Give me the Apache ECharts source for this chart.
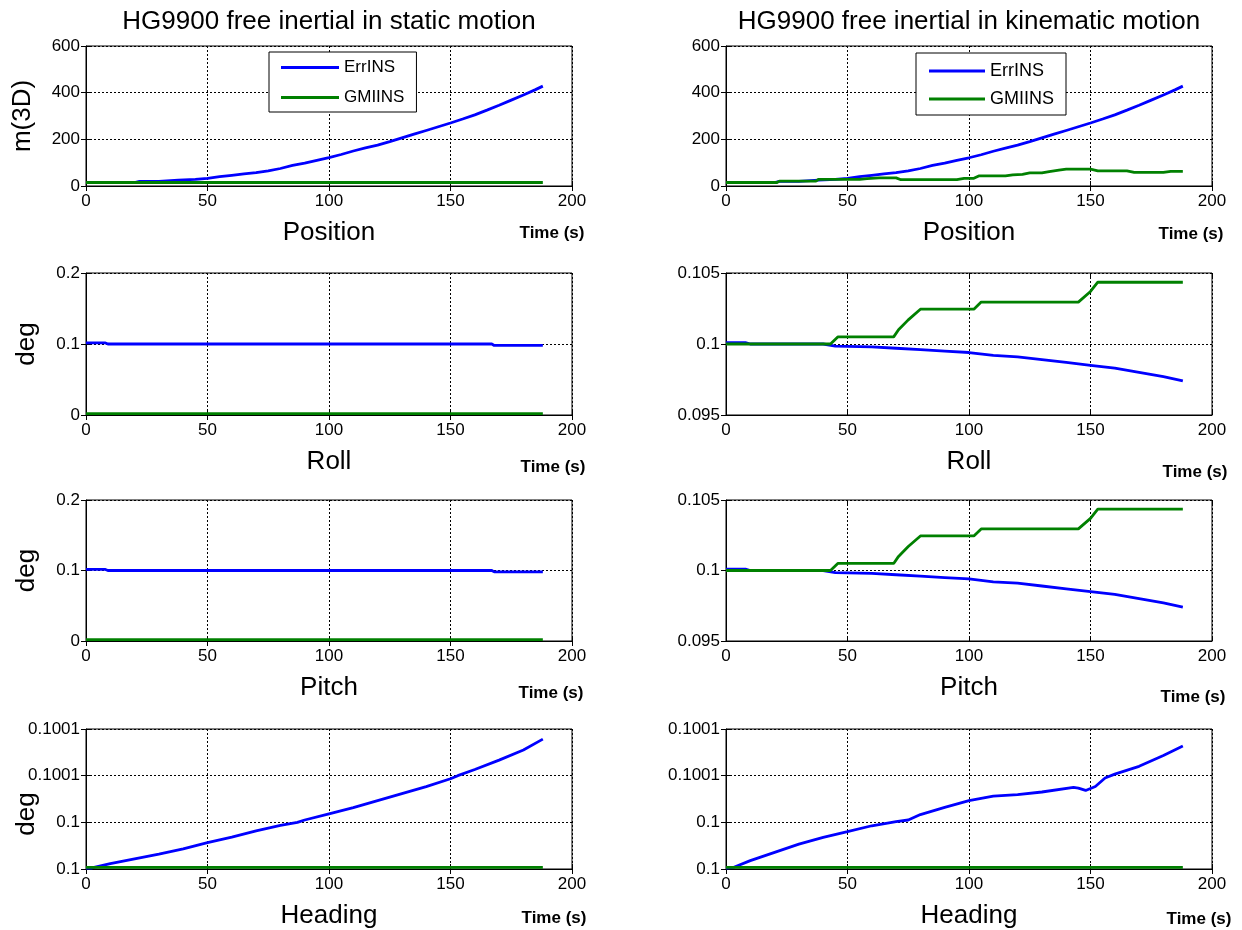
<!DOCTYPE html>
<html>
<head>
<meta charset="utf-8">
<script src="https://cdn.jsdelivr.net/npm/echarts@6/dist/echarts.min.js"></script>
<style>
html,body{margin:0;padding:0;background:#fff;}
#chart{width:1242px;height:930px;}
</style>
</head>
<body>
<div id="chart"></div>
<script>
// ---------------- DATA ----------------
const seriesNames = ['ErrINS', 'GMIINS'];
const panelTitles = ['HG9900 free inertial in static motion', 'HG9900 free inertial in kinematic motion'];
const rowNames = ['Position', 'Roll', 'Pitch', 'Heading'];
const yNamesLeft = ['m(3D)', 'deg', 'deg', 'deg'];
const xTickMin = 0, xTickMax = 200, xTickStep = 50;

// Position (m, 3D)
const posT = [0,10,20,22,30,38,45,50,55,60,65,70,75,80,85,90,95,100,105,110,115,120,125,130,135,140,145,150,155,160,165,170,175,180,185,188];
const posStaticErrINS = [15,15,15,20,20,25,28,33,40,46,52,57,65,75,88,98,110,122,135,150,163,175,190,206,222,238,254,270,287,305,325,346,368,390,413,428];
const posStaticGmiT = [0,188];
const posStaticGMIINS = [15,15];
const posKinErrINS = [15,15,15,20,20,25,28,33,40,46,52,57,65,75,88,98,110,121,134,149,162,175,190,206,222,238,254,270,287,305,325,346,368,390,413,428];
const posKinGmiT = [0,21,22,37,38,55,58,63,70,72,95,98,102,104,115,118,122,125,130,133,137,140,150,153,165,168,180,183,188];
const posKinGMIINS = [15,15,21,21,28,28,32,35,35,27,27,33,33,43,43,48,50,56,56,62,68,72,72,65,65,58,58,63,63];

// Roll (deg)
const rollStaticErrT = [0,8,9,167,168,188];
const rollStaticErrINS = [0.1015,0.1015,0.1,0.1,0.098,0.098];
const rollStaticGmiT = [0,188];
const rollStaticGMIINS = [0.002,0.002];
const rollKinErrT = [0,8,10,40,45,60,70,80,90,100,110,120,130,140,150,160,170,180,188];
const rollKinErrINS = [0.1001,0.1001,0.1,0.1,0.09985,0.0998,0.0997,0.0996,0.0995,0.0994,0.0992,0.0991,0.0989,0.0987,0.0985,0.0983,0.098,0.0977,0.0974];
const rollKinGmiT = [0,43,46,69,71,75,80,102,105,145,150,153,188];
const rollKinGMIINS = [0.1,0.1,0.1005,0.1005,0.101,0.1017,0.10245,0.10245,0.10295,0.10295,0.1037,0.10435,0.10435];

// Pitch (deg)
const pitchStaticErrT = [0,8,9,167,168,188];
const pitchStaticErrINS = [0.1015,0.1015,0.1,0.1,0.098,0.098];
const pitchStaticGmiT = [0,188];
const pitchStaticGMIINS = [0.002,0.002];
const pitchKinErrT = [0,8,10,40,45,60,70,80,90,100,110,120,130,140,150,160,170,180,188];
const pitchKinErrINS = [0.1001,0.1001,0.1,0.1,0.09985,0.0998,0.0997,0.0996,0.0995,0.0994,0.0992,0.0991,0.0989,0.0987,0.0985,0.0983,0.098,0.0977,0.0974];
const pitchKinGmiT = [0,43,46,69,71,75,80,102,105,145,150,153,188];
const pitchKinGMIINS = [0.1,0.1,0.1005,0.1005,0.101,0.1017,0.10245,0.10245,0.10295,0.10295,0.1037,0.10435,0.10435];

// Heading: offset above 0.1 deg, in units of 1e-5 deg
const headingBase = 0.1, headingUnit = 1e-5;
const headStaticErrT = [0,2,10,20,30,40,50,60,70,80,87,90,100,110,120,130,140,150,153,160,170,180,188];
const headStaticErrINS = [0.05,0.05,0.35,0.65,0.95,1.3,1.7,2.05,2.45,2.8,3.0,3.15,3.55,3.95,4.4,4.85,5.3,5.8,6.0,6.4,7.0,7.65,8.35];
const headStaticGmiT = [0,188];
const headStaticGMIINS = [0.1,0.1];
const headKinErrT = [0,3,10,20,30,40,50,60,70,75,80,90,100,110,120,130,143,145,148,152,156,160,170,180,188];
const headKinErrINS = [0.05,0.1,0.54,1.07,1.6,2.03,2.4,2.78,3.05,3.15,3.5,3.96,4.4,4.68,4.78,4.95,5.25,5.2,5.05,5.3,5.85,6.1,6.6,7.3,7.9];
const headKinGmiT = [0,188];
const headKinGMIINS = [0.1,0.1];

// y-axis ranges [min, max, interval]
const yRanges = [
  [[0,600,200],[0,600,200]],
  [[0,0.2,0.1],[0.095,0.105,0.005]],
  [[0,0.2,0.1],[0.095,0.105,0.005]],
  [[0,9,3],[0,9,3]]
];

// ---------------- LAYOUT / STYLE ----------------
const gridLefts = [86, 726];
const gridWidth = 486;
const gridTops = [46, 273, 500, 729];
const gridHeights = [140, 142, 141, 140];
const colors = {ErrINS: '#0000ff', GMIINS: '#008000'};
const FONT = 'Liberation Sans, Arial, Helvetica, sans-serif';
const yNamePadding = [[0,0,0,0],[0,0,0,0],[0,0,0,0],[0,30,0,0]];
const yNameGaps = [50, 46, 46, 46];

const panelData = [
  [ {err:[posT,posStaticErrINS], gmi:[posStaticGmiT,posStaticGMIINS]},
    {err:[posT,posKinErrINS], gmi:[posKinGmiT,posKinGMIINS]} ],
  [ {err:[rollStaticErrT,rollStaticErrINS], gmi:[rollStaticGmiT,rollStaticGMIINS]},
    {err:[rollKinErrT,rollKinErrINS], gmi:[rollKinGmiT,rollKinGMIINS]} ],
  [ {err:[pitchStaticErrT,pitchStaticErrINS], gmi:[pitchStaticGmiT,pitchStaticGMIINS]},
    {err:[pitchKinErrT,pitchKinErrINS], gmi:[pitchKinGmiT,pitchKinGMIINS]} ],
  [ {err:[headStaticErrT,headStaticErrINS], gmi:[headStaticGmiT,headStaticGMIINS]},
    {err:[headKinErrT,headKinErrINS], gmi:[headKinGmiT,headKinGMIINS]} ]
];

function pairs(t, v) { return t.map((x, i) => [x, v[i]]); }
function headingLabel(v) { return String(parseFloat((headingBase + v * headingUnit).toFixed(4))); }

const grids = [], xAxes = [], yAxes = [], series = [], graphics = [];
const timeLabelPos = [
  [[552,233],[1191,234]],
  [[553,467],[1195,472]],
  [[551,693],[1193,697]],
  [[554,918],[1199,919]]
];

let idx = 0;
const N = 8;
for (let r = 0; r < 4; r++) {
  for (let c = 0; c < 2; c++) {
    const [ymin, ymax, yint] = yRanges[r][c];
    grids.push({
      left: gridLefts[c], top: gridTops[r], width: gridWidth, height: gridHeights[r],
      show: true, borderColor: '#000', borderWidth: 1, backgroundColor: '#fff',
      containLabel: false, outerBoundsMode: 'none'
    });
    xAxes.push({
      type: 'value', gridIndex: idx, min: xTickMin, max: xTickMax, interval: xTickStep,
      name: rowNames[r], nameLocation: 'middle', nameGap: 34, nameMoveOverlap: false,
      nameTextStyle: {fontFamily: FONT, fontSize: 26, color: '#000'},
      axisLine: {show: true, onZero: false, lineStyle: {color: '#000', width: 1}},
      axisTick: {show: true, inside: true, length: 5, lineStyle: {color: '#000'}},
      axisLabel: {fontFamily: FONT, fontSize: 17, color: '#000', margin: 7},
      splitLine: {show: true, lineStyle: {color: '#000', type: [2, 2], width: 1}}
    });
    const yAx = {
      type: 'value', gridIndex: idx, min: ymin, max: ymax, interval: yint,
      nameMoveOverlap: false,
      axisLine: {show: true, onZero: false, lineStyle: {color: '#000', width: 1}},
      axisTick: {show: true, inside: true, length: 5, lineStyle: {color: '#000'}},
      axisLabel: {fontFamily: FONT, fontSize: 17, color: '#000', margin: 6},
      splitLine: {show: true, lineStyle: {color: '#000', type: [2, 2], width: 1}}
    };
    if (r === 3) yAx.axisLabel.formatter = headingLabel;
    if (c === 0) {
      yAx.name = yNamesLeft[r];
      yAx.nameLocation = 'middle';
      yAx.nameGap = yNameGaps[r];
      yAx.nameTextStyle = {fontFamily: FONT, fontSize: 26, color: '#000', padding: yNamePadding[r]};
    }
    yAxes.push(yAx);

    const pd = panelData[r][c];
    series.push({
      name: 'ErrINS', type: 'line', xAxisIndex: idx, yAxisIndex: idx,
      data: pairs(pd.err[0], pd.err[1]), symbol: 'none', animation: false, z: 3,
      lineStyle: {color: colors.ErrINS, width: 2.8}, itemStyle: {color: colors.ErrINS}
    });
    series.push({
      name: 'GMIINS', type: 'line', xAxisIndex: idx, yAxisIndex: idx,
      data: pairs(pd.gmi[0], pd.gmi[1]), symbol: 'none', animation: false, z: 4,
      lineStyle: {color: colors.GMIINS, width: 2.8}, itemStyle: {color: colors.GMIINS}
    });

    const tp = timeLabelPos[r][c];
    graphics.push({
      type: 'text', x: tp[0], y: tp[1], silent: true,
      style: {text: 'Time (s)', font: 'bold 17px ' + FONT, fill: '#000', align: 'center', verticalAlign: 'middle'}
    });
    idx++;
  }
}
// mirrored ticks on top and right (box)
for (let i = 0; i < N; i++) {
  xAxes.push({
    type: 'value', gridIndex: i, position: 'top', min: xTickMin, max: xTickMax, interval: xTickStep,
    axisLine: {show: false}, axisLabel: {show: false}, splitLine: {show: false},
    axisTick: {show: true, inside: true, length: 5, lineStyle: {color: '#000'}}
  });
  yAxes.push({
    type: 'value', gridIndex: i, position: 'right', min: yAxes[i].min, max: yAxes[i].max, interval: yAxes[i].interval,
    axisLine: {show: false}, axisLabel: {show: false}, splitLine: {show: false},
    axisTick: {show: true, inside: true, length: 5, lineStyle: {color: '#000'}}
  });
}

graphics.push({type: 'text', x: 329, y: 22, silent: true,
  style: {text: panelTitles[0], font: '26px ' + FONT, fill: '#000', align: 'center', verticalAlign: 'middle'}});
graphics.push({type: 'text', x: 969, y: 22, silent: true,
  style: {text: panelTitles[1], font: '26px ' + FONT, fill: '#000', align: 'center', verticalAlign: 'middle'}});

const legends = [
  {left: 269, top: 52, orient: 'vertical', data: seriesNames, icon: 'rect', itemWidth: 58, itemHeight: 3,
   itemGap: 13, padding: [7, 12, 6, 12], borderColor: '#000', borderWidth: 1, backgroundColor: '#fff',
   textStyle: {fontFamily: FONT, fontSize: 17, color: '#000'}, selectedMode: false},
  {left: 916, top: 53, orient: 'vertical', data: seriesNames, icon: 'rect', itemWidth: 56, itemHeight: 3,
   itemGap: 10, padding: [9, 12, 7, 13], borderColor: '#000', borderWidth: 1, backgroundColor: '#fff',
   textStyle: {fontFamily: FONT, fontSize: 18, color: '#000'}, selectedMode: false}
];

const chart = echarts.init(document.getElementById('chart'), null, {renderer: 'canvas'});
chart.setOption({
  backgroundColor: '#fff',
  animation: false,
  grid: grids,
  xAxis: xAxes,
  yAxis: yAxes,
  legend: legends,
  series: series,
  graphic: graphics
});
</script>
</body>
</html>
